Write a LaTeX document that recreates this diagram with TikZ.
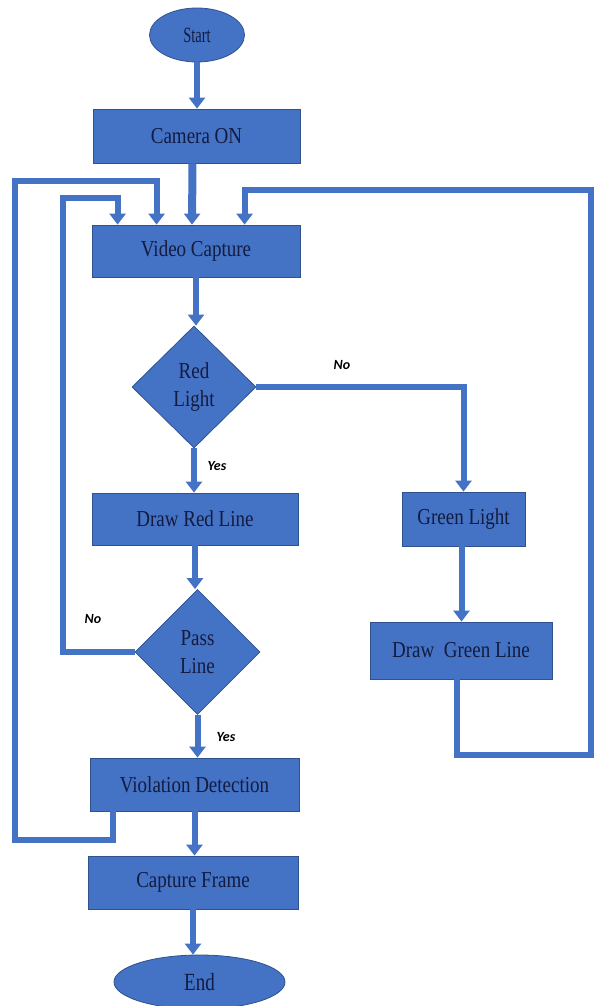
\documentclass[tikz,border=0pt]{standalone}
\usepackage{fontspec}
\setmainfont{Liberation Serif}
\newfontfamily\lblfont{Carlito}
\usetikzlibrary{shapes.geometric,arrows.meta,calc}
\definecolor{boxblue}{HTML}{4472C4}
\definecolor{boxline}{HTML}{2F528F}
\definecolor{txtnavy}{HTML}{131C40}
\newcommand\tallt[2][1.2]{\scalebox{1}[#1]{#2}}
\tikzset{
  procbox/.style={draw=boxline, fill=boxblue, line width=0.8pt, inner sep=0pt,
    text=txtnavy, font=\fontsize{19}{22}\selectfont},
  termnode/.style={ellipse, draw=boxline, fill=boxblue, line width=0.8pt, inner sep=0pt,
    text=txtnavy},
  decnode/.style={diamond, draw=boxline, fill=boxblue, line width=0.8pt, inner sep=0pt,
    text=txtnavy, align=center, font=\fontsize{19}{28}\selectfont},
  conn/.style={draw=boxblue, line width=6pt, line join=miter,
    -{Triangle[width=16pt,length=11pt]}},
  lbl/.style={font=\lblfont\bfseries\itshape\fontsize{14}{16}\selectfont, text=black}
}
\begin{document}
\begin{tikzpicture}[x=1pt,y=-1pt]
\useasboundingbox (0,0) rectangle (595,1006);
% nodes
\node[termnode, minimum width=95pt, minimum height=54pt, font=\fontsize{14.5}{18}\selectfont] (start) at (197,35) {\tallt[1.5]{Start}};
\node[procbox, minimum width=207pt, minimum height=54pt] (cam) at (196.5,136) {\tallt{Camera ON}};
\node[procbox, minimum width=208pt, minimum height=52pt] (vid) at (196,251) {\tallt{Video Capture}};
\node[decnode, minimum width=124pt, minimum height=122pt] (red) at (194,387) {\tallt{Red}\\\tallt{Light}};
\node[procbox, minimum width=206pt, minimum height=52pt] (drl) at (195,519) {\tallt{Draw Red Line}};
\node[procbox, minimum width=123pt, minimum height=54pt] (grl) at (463.5,519) {\tallt{Green Light}};
\node[procbox, minimum width=182pt, minimum height=57pt] (dgl) at (461,650.5) {\tallt{Draw\ \ Green Line}};
\node[decnode, minimum width=125pt, minimum height=125pt] (pass) at (197.5,652) {\tallt{Pass}\\\tallt{Line}};
\node[procbox, minimum width=209pt, minimum height=53pt] (vd) at (194.5,784.5) {\tallt{Violation Detection}};
\node[procbox, minimum width=210pt, minimum height=53pt] (cf) at (193,882.5) {\tallt{Capture Frame}};
\node[termnode, minimum width=171pt, minimum height=54pt, font=\fontsize{19}{22}\selectfont] (end) at (199.5,982) {\tallt[1.3]{End}};
% labels
\node[lbl] (lno1) at (342,365) {No};
\node[lbl] (lyes1) at (217,466) {Yes};
\node[lbl] (lno2) at (93,619) {No};
\node[lbl] (lyes2) at (226,737) {Yes};
% loop corner coordinates
\coordinate (innerTL) at (63,198);
\coordinate (outerBL) at (15,840);
\coordinate (outerTL) at (15,181);
\coordinate (rightBR) at (591,755);
\coordinate (rightTR) at (591,190);
\coordinate (vdA) at ($(vd.south west)+(23,0)$);
\coordinate (dglA) at ($(dgl.south west)+(87,0)$);
% connectors
\draw[conn] (start.south) -- (start.south |- cam.north);
\draw[conn, line width=8pt] ($(cam.south)+(-4,0)$) -- ($(vid.north)+(-4,0)$);
\draw[conn] (vid.south) -- (vid.south |- red.north);
\draw[conn] (red.south) -- (red.south |- drl.north);
\draw[conn] (red.east) -| (grl.north);
\draw[conn] ($(grl.south)+(-2,0)$) -- ($(grl.south |- dgl.north)+(-2,0)$);
\draw[conn] (drl.south) -- (drl.south |- pass.north);
\draw[conn] (pass.south) -- (pass.south |- vd.north);
\draw[conn] (vd.south) -- (vd.south |- cf.north);
\draw[conn] (cf.south) -- (cf.south |- end.north);
\draw[conn] (pass.west) -| (innerTL) -| ($(vid.north west)+(26,0)$);
\draw[conn] (vdA) |- (outerBL) -- (outerTL) -| ($(vid.north west)+(65,0)$);
\draw[conn] (dglA) |- (rightBR) -- (rightTR) -| ($(vid.north west)+(153,0)$);
\end{tikzpicture}
\end{document}
